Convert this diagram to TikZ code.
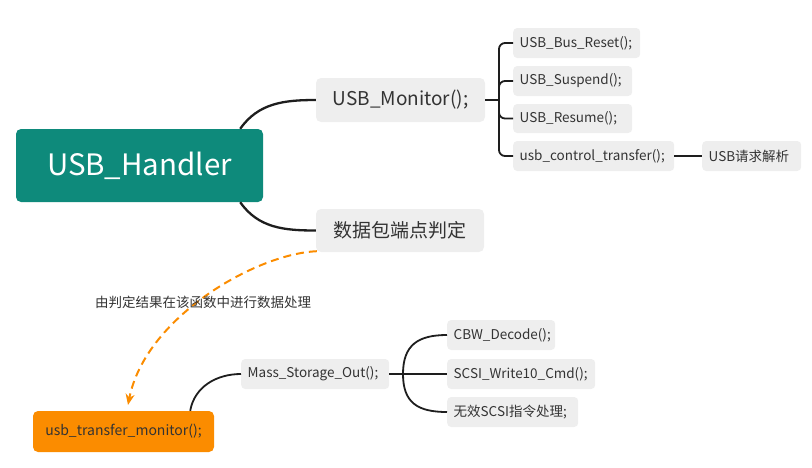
\documentclass[tikz,border=0pt]{standalone}
\usepackage{fontspec}
\setmainfont{Noto Sans CJK SC}
\usetikzlibrary{calc,arrows.meta}
\definecolor{teal1}{HTML}{0E8A7B}
\definecolor{orng}{HTML}{FB8C00}
\definecolor{boxg}{HTML}{EEEEEE}
\definecolor{txt}{HTML}{333333}
\definecolor{lnk}{HTML}{1E1E1E}
\tikzset{
  root/.style={fill=teal1,rounded corners=5pt,text=white,font=\fontsize{29.5}{31}\selectfont,minimum width=247pt,minimum height=73pt,inner sep=0pt},
  mid/.style={fill=boxg,rounded corners=5pt,text=txt,font=\fontsize{19}{21}\selectfont,minimum width=169pt,minimum height=44pt,inner sep=0pt},
  leaf/.style={fill=boxg,rounded corners=4pt,text=txt,font=\fontsize{13.5}{15}\selectfont,minimum height=30pt,inner ysep=0pt,inner xsep=6.5pt,anchor=west,align=left},
  orangebox/.style={fill=orng,rounded corners=5pt,text=txt,font=\fontsize{14}{16}\selectfont,minimum width=181pt,minimum height=41pt,inner sep=0pt},
  conn/.style={draw=lnk,line width=2.3pt},
  sconn/.style={draw=lnk,line width=1.8pt},
}
\begin{document}
\begin{tikzpicture}[x=1pt,y=-1pt]
\useasboundingbox (0,0) rectangle (812,467);
\node[root] (H) at (139.5,165.5) {USB\_Handler};
\node[mid] (M) at (400.5,100) {USB\_Monitor();};
\node[mid,minimum width=168pt,minimum height=43pt] (D) at (400,230.5) {数据包端点判定};
\node[leaf,text width=114pt] (c1) at (513,43) {USB\_Bus\_Reset();};
\node[leaf,text width=106pt] (c2) at (513,81) {USB\_Suspend();};
\node[leaf,text width=106pt,minimum height=29pt] (c3) at (513,118.5) {USB\_Resume();};
\node[leaf,text width=148pt] (c4) at (513,156) {usb\_control\_transfer();};
\node[leaf,text width=86pt] (c5) at (702,156) {USB请求解析};
\node[orangebox] (O) at (123.5,431.5) {usb\_transfer\_monitor();};
\node[leaf,text width=135pt] (MS) at (241,374) {Mass\_Storage\_Out();};
\node[leaf,text width=95pt] (b1) at (447,335) {CBW\_Decode();};
\node[leaf,text width=135pt] (b2) at (447,374) {SCSI\_Write10\_Cmd();};
\node[leaf,text width=118pt] (b3) at (447,412) {无效SCSI指令处理;};
% root branches
\draw[conn] ($(H.north east)+(-23,0)$) to[out=55,in=180] (M.west);
\draw[conn] ($(H.south east)+(-23,0)$) to[out=-55,in=180] (D.west);
% monitor bracket
\coordinate (mj) at (499,100);
\draw[sconn] (M.east) -- (mj);
\draw[sconn,rounded corners=6pt] (mj) |- (c1.west);
\draw[sconn,rounded corners=6pt] (mj) |- (c2.west);
\draw[sconn,rounded corners=6pt] (mj) |- (c3.west);
\draw[sconn,rounded corners=6pt] (mj) |- (c4.west);
\draw[sconn] (c4.east) -- (c5.west);
% orange branch
\draw[sconn] ($(O.north east)+(-24,0)$) to[out=80,in=180] (MS.west);
\draw[sconn] (MS.east) -- (b2.west);
\coordinate (sj) at (403,374);
\draw[sconn] (sj) .. controls (403,345) and (418,335) .. (b1.west);
\draw[sconn] (sj) .. controls (403,403) and (418,412) .. (b3.west);
% dashed relation
\draw[draw=orng,line width=2pt,dash pattern=on 8pt off 5pt,-{Stealth[length=11pt,width=9pt]}]
  ($(D.south west)+(1,-1)$) .. controls (255,254) and (145,318) .. (128,405);
\node[text=txt,font=\fontsize{13.5}{15}\selectfont] (lbl) at (203,302) {由判定结果在该函数中进行数据处理};
\end{tikzpicture}
\end{document}
